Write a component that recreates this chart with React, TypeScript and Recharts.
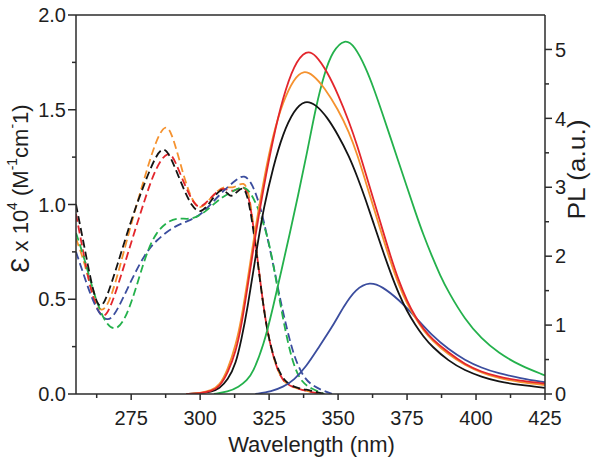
import React from "react";
import { LineChart, Line, XAxis, YAxis, ReferenceLine } from "recharts";

// wavelength (nm) -> absorbance (ε x 10^4) for dashed curves, PL intensity for solid curves
const absBlack: [number, number][] = [
  [255, 1.0], [258, 0.78], [261, 0.55], [263.5, 0.44], [266, 0.5], [270, 0.68], [275, 0.92],
  [280, 1.12], [284, 1.26], [287, 1.31], [290, 1.23], [294, 1.08], [297, 0.99], [300, 0.95],
  [303, 1.0], [306, 1.06], [308.5, 1.09], [311, 1.03], [313.5, 1.07], [316, 1.1], [318, 1.0],
  [320.5, 0.74], [323, 0.45], [325, 0.28], [328, 0.13], [331, 0.06], [335, 0.03], [340, 0.02], [345, 0],
];
const absOrange: [number, number][] = [
  [255, 0.82], [258, 0.7], [261, 0.52], [264, 0.42], [267, 0.48], [270, 0.62], [275, 0.9],
  [280, 1.15], [284, 1.34], [287.5, 1.43], [290, 1.37], [294, 1.15], [297, 1.02], [300, 0.97],
  [303, 1.02], [306, 1.07], [309, 1.1], [312, 1.08], [316, 1.13], [318, 1.05], [320.5, 0.75],
  [323, 0.45], [325, 0.28], [328, 0.12], [331, 0.05], [335, 0.03], [340, 0.01], [345, 0],
];
const absRed: [number, number][] = [
  [255, 0.95], [258, 0.72], [261, 0.5], [264.5, 0.39], [267, 0.44], [270, 0.56], [275, 0.8],
  [280, 1.03], [284, 1.2], [288.5, 1.29], [291, 1.23], [295, 1.08], [298, 1.0], [300, 0.98],
  [303, 1.02], [306, 1.07], [309, 1.09], [312, 1.06], [316, 1.11], [318, 1.03], [320.5, 0.75],
  [323, 0.45], [325, 0.28], [328, 0.12], [331, 0.05], [335, 0.03], [340, 0.01], [345, 0],
];
const absBlue: [number, number][] = [
  [255, 0.75], [258, 0.62], [262, 0.45], [266.5, 0.37], [270, 0.44], [275, 0.6], [280, 0.74],
  [284, 0.81], [290, 0.88], [295, 0.91], [300, 0.94], [305, 1.02], [309, 1.08], [313, 1.13],
  [316, 1.16], [319, 1.11], [322, 0.98], [324, 0.85], [327, 0.65], [329, 0.5], [331.5, 0.34],
  [334, 0.2], [337, 0.1], [340, 0.05], [344, 0.02], [348, 0],
];
const absGreen: [number, number][] = [
  [255, 0.85], [258, 0.72], [262, 0.5], [266, 0.36], [270, 0.33], [274, 0.43], [278, 0.62],
  [281, 0.76], [284, 0.85], [288, 0.91], [292, 0.93], [296, 0.92], [300, 0.94], [304, 0.99],
  [308, 1.04], [312, 1.07], [315.5, 1.1], [318, 1.07], [320.5, 1.0], [323, 0.9], [325.5, 0.77],
  [328, 0.56], [331, 0.32], [334, 0.14], [337, 0.06], [340, 0.03], [345, 0],
];

const plBlack: [number, number][] = [
  [295, 0], [300, 0.01], [304, 0.03], [307, 0.08], [310, 0.2], [313, 0.44], [315, 0.8],
  [317, 1.2], [320.5, 2.1], [323, 2.7], [326.5, 3.3], [330, 3.78], [334, 4.12], [338, 4.27],
  [342, 4.2], [346, 4.02], [350, 3.76], [354, 3.45], [357, 3.15], [360, 2.82], [363, 2.46],
  [366, 2.1], [369, 1.76], [372, 1.45], [375, 1.2], [378, 1.0], [381, 0.83], [384, 0.69],
  [390, 0.48], [396, 0.34], [402, 0.25], [408, 0.18], [416, 0.13], [425, 0.09],
];
const plRed: [number, number][] = [
  [295, 0], [300, 0.01], [304, 0.04], [307, 0.1], [310, 0.3], [313, 0.62], [315, 1.0],
  [317, 1.5], [320, 2.3], [323, 3.0], [326.5, 3.72], [330, 4.3], [334, 4.78], [338.5, 5.0],
  [342, 4.92], [346, 4.68], [350, 4.35], [354, 3.95], [357, 3.6], [360, 3.2], [363, 2.8],
  [366, 2.4], [369, 2.0], [372, 1.64], [375, 1.35], [378, 1.12], [381, 0.94], [384, 0.8],
  [390, 0.6], [396, 0.43], [402, 0.32], [408, 0.25], [416, 0.19], [425, 0.15],
];
const plOrange: [number, number][] = [
  [295, 0], [300, 0.01], [304, 0.05], [307, 0.12], [310, 0.35], [313, 0.72], [315, 1.1],
  [317, 1.6], [320, 2.4], [323, 3.1], [326.5, 3.78], [330, 4.24], [334, 4.58], [337.5, 4.7],
  [341, 4.63], [345, 4.45], [350, 4.13], [354, 3.8], [357, 3.47], [360, 3.08], [363, 2.69],
  [366, 2.3], [369, 1.92], [372, 1.58], [375, 1.31], [378, 1.1], [381, 0.92], [384, 0.78],
  [390, 0.57], [396, 0.42], [402, 0.31], [408, 0.23], [416, 0.17], [425, 0.13],
];
const plGreen: [number, number][] = [
  [305, 0], [310, 0.03], [314, 0.1], [317, 0.2], [319, 0.3], [323, 0.7], [326.5, 1.27],
  [329.5, 1.8], [332.5, 2.33], [335.5, 2.88], [338.5, 3.45], [342, 4.18], [345, 4.65], [348, 4.98],
  [352.5, 5.16], [356, 5.05], [360, 4.74], [363, 4.43], [366, 4.08], [369, 3.72], [372, 3.36],
  [375, 3.0], [378, 2.64], [381, 2.3], [384, 2.0], [387, 1.72], [390, 1.48], [396, 1.08],
  [402, 0.8], [408, 0.6], [416, 0.41], [425, 0.27],
];
const plBlue: [number, number][] = [
  [320, 0], [326, 0.04], [330, 0.1], [334, 0.2], [338.5, 0.4], [343, 0.68], [348, 0.98],
  [352, 1.27], [356.5, 1.53], [361.5, 1.63], [366, 1.56], [372, 1.37], [378, 1.12], [384, 0.85],
  [390, 0.65], [396, 0.49], [402, 0.38], [408, 0.3], [416, 0.23], [425, 0.17],
];

const wavelengthTicks = [262.5, 275, 287.5, 300, 312.5, 325, 337.5, 350, 362.5, 375, 387.5, 400, 412.5, 425];
const wavelengthLabels = [275, 300, 325, 350, 375, 400, 425];
const epsilonTicks = [0, 0.25, 0.5, 0.75, 1.0, 1.25, 1.5, 1.75, 2.0];
const epsilonLabels = [0, 0.5, 1.0, 1.5, 2.0];
const plTicks = [0, 0.5, 1, 1.5, 2, 2.5, 3, 3.5, 4, 4.5, 5];
const plLabels = [0, 1, 2, 3, 4, 5];

const toPoints = (rows: [number, number][]) => rows.map(([x, y]) => ({ x, y }));

const FONT = "'Liberation Sans', Arial, sans-serif";
const AXIS = "#2b2b2b";
const TEXT = "#1e1e1e";
const TICK_FONT = 20;

const absSeries = [
  { name: "abs-orange", rows: absOrange, color: "#f5922f" },
  { name: "abs-red", rows: absRed, color: "#e3262c" },
  { name: "abs-blue", rows: absBlue, color: "#3b4d9e" },
  { name: "abs-green", rows: absGreen, color: "#24b14c" },
  { name: "abs-black", rows: absBlack, color: "#141414" },
];
const plSeries = [
  { name: "pl-blue", rows: plBlue, color: "#3b4d9e" },
  { name: "pl-green", rows: plGreen, color: "#24b14c" },
  { name: "pl-black", rows: plBlack, color: "#141414" },
  { name: "pl-orange", rows: plOrange, color: "#f5922f" },
  { name: "pl-red", rows: plRed, color: "#e3262c" },
];

function BottomTick({ x, y, payload }: any) {
  const major = wavelengthLabels.includes(payload.value);
  return (
    <g>
      <line x1={x} y1={y} x2={x} y2={y + (major ? 6 : 4)} stroke={AXIS} strokeWidth={1.5} />
      {major && (
        <text x={x} y={y + 31} textAnchor="middle" fontSize={TICK_FONT} fontFamily={FONT} fill={TEXT}>
          {payload.value}
        </text>
      )}
    </g>
  );
}

function LeftTick({ x, y, payload }: any) {
  const major = epsilonLabels.includes(payload.value);
  return (
    <g>
      <line x1={x} y1={y} x2={x - (major ? 8 : 4)} y2={y} stroke={AXIS} strokeWidth={1.5} />
      {major && (
        <text x={x - 10} y={y} dy="0.36em" textAnchor="end" fontSize={TICK_FONT} fontFamily={FONT} fill={TEXT}>
          {payload.value.toFixed(1)}
        </text>
      )}
    </g>
  );
}

function RightTick({ x, y, payload }: any) {
  const major = plLabels.includes(payload.value);
  return (
    <g>
      <line x1={x} y1={y} x2={x + (major ? 7 : 4)} y2={y} stroke={AXIS} strokeWidth={1.5} />
      {major && (
        <text x={x + 10} y={y} dy="0.36em" textAnchor="start" fontSize={TICK_FONT} fontFamily={FONT} fill={TEXT}>
          {payload.value}
        </text>
      )}
    </g>
  );
}

function EpsilonTitle({ viewBox }: any) {
  const cx = viewBox.x + 20;
  const cy = viewBox.y + viewBox.height / 2 - 16;
  return (
    <text
      x={cx}
      y={cy}
      transform={`rotate(-90 ${cx} ${cy})`}
      textAnchor="middle"
      dominantBaseline="central"
      fontSize={22}
      fontFamily={FONT}
      fill={TEXT}
    >
      <tspan fontSize={25}>Ɛ</tspan>
      <tspan> x 10</tspan>
      <tspan fontSize={14} dy={-8}>4</tspan>
      <tspan dy={8}> (M</tspan>
      <tspan fontSize={14} dy={-8}>-1</tspan>
      <tspan dy={8}>cm</tspan>
      <tspan fontSize={14} dy={-8}>-</tspan>
      <tspan dy={8}>1)</tspan>
    </text>
  );
}

function PLTitle({ viewBox }: any) {
  const cx = viewBox.x + 32;
  const cy = viewBox.y + viewBox.height / 2 - 35;
  return (
    <text
      x={cx}
      y={cy}
      transform={`rotate(-90 ${cx} ${cy})`}
      textAnchor="middle"
      dominantBaseline="central"
      fontSize={23}
      fontFamily={FONT}
      fill={TEXT}
      textLength={100}
      lengthAdjust="spacingAndGlyphs"
    >
      PL (a.u.)
    </text>
  );
}

function WavelengthTitle({ viewBox }: any) {
  const cx = viewBox.x + viewBox.width / 2 + 1;
  const cy = viewBox.y + 58;
  return (
    <text x={cx} y={cy} textAnchor="middle" fontSize={22} fontFamily={FONT} fill={TEXT}>
      Wavelength (nm)
    </text>
  );
}

export default function App() {
  return (
    <div style={{ position: "absolute", left: 0, top: 0, background: "#fff" }}>
      <LineChart width={608} height={459} margin={{ top: 15, right: 0, bottom: 0, left: 0 }}>
        <XAxis
          type="number"
          dataKey="x"
          domain={[255, 425]}
          ticks={wavelengthTicks}
          allowDataOverflow
          height={65}
          tickSize={0}
          tickMargin={0}
          tickLine={false}
          axisLine={{ stroke: AXIS, strokeWidth: 1.5 }}
          tick={(p: any) => <BottomTick x={p.x} y={p.y} payload={p.payload} />}
          interval={0}
          label={{ content: (p: any) => <WavelengthTitle viewBox={p.viewBox} /> }}
        />
        <YAxis
          yAxisId="left"
          orientation="left"
          type="number"
          domain={[0, 2]}
          ticks={epsilonTicks}
          allowDataOverflow
          width={76}
          tickSize={0}
          tickMargin={0}
          tickLine={false}
          interval={0}
          axisLine={{ stroke: AXIS, strokeWidth: 1.5 }}
          tick={(p: any) => <LeftTick x={p.x} y={p.y} payload={p.payload} />}
          label={{ content: (p: any) => <EpsilonTitle viewBox={p.viewBox} /> }}
        />
        <YAxis
          yAxisId="right"
          orientation="right"
          type="number"
          domain={[0, 5.5]}
          ticks={plTicks}
          allowDataOverflow
          width={63}
          tickSize={0}
          tickMargin={0}
          tickLine={false}
          interval={0}
          axisLine={{ stroke: AXIS, strokeWidth: 1.5 }}
          tick={(p: any) => <RightTick x={p.x} y={p.y} payload={p.payload} />}
          label={{ content: (p: any) => <PLTitle viewBox={p.viewBox} /> }}
        />
        <ReferenceLine yAxisId="left" y={2} stroke={AXIS} strokeWidth={1.5} />
        {absSeries.map((s) => (
          <Line
            key={s.name}
            yAxisId="left"
            data={toPoints(s.rows)}
            dataKey="y"
            type="basis"
            stroke={s.color}
            strokeWidth={1.8}
            strokeDasharray="8 4"
            dot={false}
            activeDot={false}
            isAnimationActive={false}
          />
        ))}
        {plSeries.map((s) => (
          <Line
            key={s.name}
            yAxisId="right"
            data={toPoints(s.rows)}
            dataKey="y"
            type="basis"
            stroke={s.color}
            strokeWidth={1.8}
            dot={false}
            activeDot={false}
            isAnimationActive={false}
          />
        ))}
      </LineChart>
    </div>
  );
}
